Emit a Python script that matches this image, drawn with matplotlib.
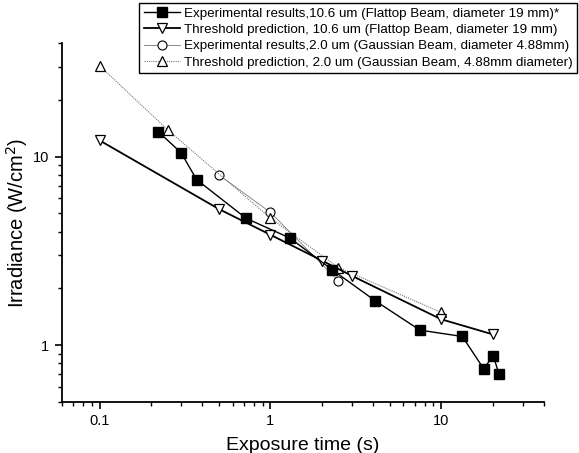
import numpy as np
import matplotlib
matplotlib.use('Agg')
import matplotlib.pyplot as plt
from matplotlib.ticker import LogLocator, NullFormatter, FixedLocator, FixedFormatter

plt.rcParams['font.family'] = ['Liberation Sans', 'DejaVu Sans']

# experimental results, 10.6 um flattop
exp106_t = [0.22, 0.30, 0.37, 0.72, 1.3, 2.3, 4.1, 7.5, 13.3, 17.7, 20.2, 21.8]
exp106_i = [13.6, 10.5, 7.55, 4.71, 3.70, 2.51, 1.72, 1.20, 1.11, 0.75, 0.875, 0.70]
# threshold prediction, 10.6 um flattop
thr106_t = [0.1, 0.5, 1.0, 2.0, 3.0, 10.0, 20.0]
thr106_i = [12.2, 5.27, 3.85, 2.81, 2.33, 1.37, 1.14]
# experimental results, 2.0 um gaussian
exp20_t = [0.5, 1.0, 2.5]
exp20_i = [8.0, 5.06, 2.19]
# threshold prediction, 2.0 um gaussian
thr20_t = [0.1, 0.25, 1.0, 2.5, 10.0]
thr20_i = [30.4, 13.9, 4.72, 2.58, 1.49]

labels = [
    'Experimental results,10.6 um (Flattop Beam, diameter 19 mm)*',
    'Threshold prediction, 10.6 um (Flattop Beam, diameter 19 mm)',
    'Experimental results,2.0 um (Gaussian Beam, diameter 4.88mm)',
    'Threshold prediction, 2.0 um (Gaussian Beam, 4.88mm diameter)',
]

fig = plt.figure(figsize=(5.79, 4.53), dpi=100)
ax = fig.add_axes([0.1066, 0.1132, 0.833, 0.7912])

ax.plot(exp106_t, exp106_i, color='black', lw=1.0, marker='s', ms=7,
        mfc='black', mec='black', label=labels[0], zorder=5)
ax.plot(thr106_t, thr106_i, color='black', lw=1.3, marker='v', ms=7.5,
        mfc='white', mec='black', mew=0.9, label=labels[1], zorder=4)
ax.plot(exp20_t, exp20_i, color='#777777', lw=0.6, marker='o', ms=6.5,
        mfc='white', mec='black', mew=0.8, label=labels[2], zorder=3)
ax.plot(thr20_t, thr20_i, color='#777777', lw=0.8, ls=(0, (1, 1)), marker='^', ms=7.5,
        mfc='white', mec='black', mew=0.9, label=labels[3], zorder=3)

ax.set_xscale('log')
ax.set_yscale('log')
ax.set_xlim(0.06, 40)
ax.set_ylim(0.5, 40)

ax.xaxis.set_major_locator(FixedLocator([0.1, 1, 10]))
ax.xaxis.set_major_formatter(FixedFormatter(['0.1', '1', '10']))
ax.xaxis.set_minor_locator(LogLocator(base=10, subs=np.arange(2, 10), numticks=20))
ax.xaxis.set_minor_formatter(NullFormatter())
ax.yaxis.set_major_locator(FixedLocator([1, 10]))
ax.yaxis.set_major_formatter(FixedFormatter(['1', '10']))
ax.yaxis.set_minor_locator(LogLocator(base=10, subs=np.arange(2, 10), numticks=20))
ax.yaxis.set_minor_formatter(NullFormatter())

ax.spines['top'].set_visible(False)
ax.spines['right'].set_visible(False)
ax.spines['left'].set_linewidth(1.3)
ax.spines['bottom'].set_linewidth(1.3)
ax.tick_params(which='major', direction='out', length=5, width=1.2, labelsize=10.5, pad=4)
ax.tick_params(which='minor', direction='out', length=3, width=1.0)

ax.set_xlabel('Exposure time (s)', fontsize=14, labelpad=6)
ax.set_ylabel('Irradiance (W/cm$^2$)', fontsize=14.5)
ax.yaxis.set_label_coords(-0.066, 0.5)

leg = fig.legend(loc='upper right', bbox_to_anchor=(0.997, 0.994), fontsize=9.6,
                 frameon=True, fancybox=False, edgecolor='black', framealpha=1,
                 handlelength=2.7, handletextpad=0.3, borderpad=0.35, labelspacing=0.3,
                 borderaxespad=0)
leg.get_frame().set_linewidth(1.0)

fig.savefig('out.png', dpi=100)
